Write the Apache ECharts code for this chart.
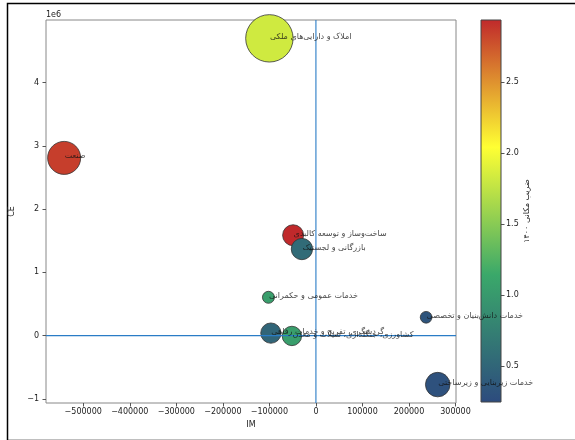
<!DOCTYPE html>
<html><head><meta charset="utf-8">
<script src="https://cdn.jsdelivr.net/npm/echarts@6/dist/echarts.min.js"></script>
<style>html,body{margin:0;padding:0;background:#fff}#c{width:575px;height:440px}</style>
</head><body><div id="c"></div>
<script>
const sectors = [
  'املاک و دارایی‌های ملکی',
  'صنعت',
  'ساخت‌وساز و توسعه کالبدی',
  'بازرگانی و لجستیک',
  'خدمات عمومی و حکمرانی',
  'خدمات دانش‌بنیان و تخصصی',
  'گردشگری، تفریح و خدمات رفاهی',
  'کشاورزی، جنگلداری، شیلات و معدن',
  'خدمات زیربنایی و زیرساختی'
];
const imValues = [-100000, -541000, -49000, -30100, -102000, 236800, -96800, -51600, 261700];
const ceValues = [4700000, 2810000, 1587000, 1369000, 606000, 290000, 40000, -5000, -774000];
const lqValues = [1.82, 2.85, 2.94, 0.55, 1.05, 0.33, 0.5, 1.05, 0.3];
const bubbleWeight = [2247, 1089, 441, 454, 144, 137, 412, 376, 600];
const xTicks = [-500000, -400000, -300000, -200000, -100000, 0, 100000, 200000, 300000];
const yTicks = [-1000000, 0, 1000000, 2000000, 3000000, 4000000];
const cbTicks = [0.5, 1.0, 1.5, 2.0, 2.5];
const lqMin = 0.246, lqMax = 2.937;
const cmapColors = ['#2d4b7e', '#3aa86a', '#ffff33', '#c0292b'];
const xRange = [-580000, 301000];
const yRange = [-1065000, 4990000];

const FONT = 'DejaVu Sans';
const ZERO_COLOR = '#2a7cc6';
const minus = s => String(s).replace('-', '\u2212');
const chart = echarts.init(document.getElementById('c'), null, {renderer: 'canvas'});

const pts = sectors.map((n, i) => [imValues[i], ceValues[i], lqValues[i], bubbleWeight[i], n]);
const lbls = sectors.map((n, i) => [imValues[i], ceValues[i], n]);

const zeroLine = (data) => ({
  type: 'line', xAxisIndex: 0, yAxisIndex: 0, z: 3, data: data, showSymbol: false, symbol: 'none',
  silent: true, clip: true, color: ZERO_COLOR,
  lineStyle: {color: ZERO_COLOR, width: 1.1, type: 'solid'}, emphasis: {disabled: true}
});

chart.setOption({
  animation: false,
  backgroundColor: '#fff',
  textStyle: {fontFamily: FONT},
  grid: [
    {left: 46, top: 20, width: 410, height: 383, show: true, borderColor: '#888', borderWidth: 1, backgroundColor: 'transparent'},
    {left: 481, top: 20, width: 20, height: 382}
  ],
  xAxis: [
    {type: 'value', gridIndex: 0, min: xRange[0], max: xRange[1],
     axisLine: {show: false, onZero: false}, splitLine: {show: false},
     axisTick: {show: true, inside: false, length: 3.5, customValues: xTicks, lineStyle: {color: '#555'}},
     axisLabel: {customValues: xTicks, fontSize: 8, color: '#222', margin: 5, fontFamily: FONT, formatter: v => minus(v)},
     name: 'IM', nameLocation: 'middle', nameGap: 17, nameTextStyle: {fontSize: 8, color: '#222', fontFamily: FONT}},
    {type: 'value', gridIndex: 1, min: 0, max: 1, show: false}
  ],
  yAxis: [
    {type: 'value', gridIndex: 0, min: yRange[0], max: yRange[1],
     axisLine: {show: false, onZero: false}, splitLine: {show: false},
     axisTick: {show: true, inside: false, length: 3.5, customValues: yTicks, lineStyle: {color: '#555'}},
     axisLabel: {customValues: yTicks, fontSize: 8, color: '#222', margin: 7, fontFamily: FONT, formatter: v => minus(Math.round(v / 1e6))},
     name: 'CE', nameLocation: 'middle', nameGap: 24, nameRotate: 90, nameTextStyle: {fontSize: 8, color: '#222', fontFamily: FONT}},
    {type: 'value', gridIndex: 1, min: lqMin, max: lqMax, position: 'right',
     axisLine: {show: false, onZero: false}, splitLine: {show: false},
     axisTick: {show: true, inside: false, length: 3.5, customValues: cbTicks, lineStyle: {color: '#555'}},
     axisLabel: {customValues: cbTicks, fontSize: 8, color: '#222', margin: 5, fontFamily: FONT, formatter: v => v.toFixed(1)},
     name: 'ضریب مکانی ۱۴۰۰', nameLocation: 'middle', nameGap: 22, nameRotate: 90,
     nameTextStyle: {fontSize: 8, color: '#222', fontFamily: FONT}}
  ],
  visualMap: {show: false, type: 'continuous', min: lqMin, max: lqMax, dimension: 2, seriesIndex: 0, inRange: {color: cmapColors}},
  series: [
    {type: 'scatter', xAxisIndex: 0, yAxisIndex: 0, z: 2, data: pts,
     symbolSize: d => Math.sqrt(d[3]),
     itemStyle: {borderColor: '#333', borderWidth: 0.8, opacity: 1},
     emphasis: {disabled: true}},
    zeroLine([[xRange[0], 0], [xRange[1], 0]]),
    zeroLine([[0, yRange[0]], [0, yRange[1]]]),
    {type: 'scatter', xAxisIndex: 0, yAxisIndex: 0, z: 4, data: lbls,
     symbolSize: 1, itemStyle: {color: 'rgba(0,0,0,0)'}, silent: true,
     emphasis: {disabled: true},
     label: {show: true, position: 'right', distance: 0, offset: [0, -1.5], align: 'left', verticalAlign: 'middle',
       formatter: p => p.data[2], fontSize: 8, color: '#111', fontFamily: FONT}},
    {type: 'custom', xAxisIndex: 1, yAxisIndex: 1, z: 2, silent: true, data: [[0, lqMin]],
     renderItem: (params, api) => {
       const p0 = api.coord([0, lqMin]);
       const p1 = api.coord([1, lqMax]);
       return {type: 'rect',
         shape: {x: p0[0], y: p1[1], width: p1[0] - p0[0], height: p0[1] - p1[1]},
         style: {fill: new echarts.graphic.LinearGradient(0, 1, 0, 0,
             cmapColors.map((c, i) => ({offset: i / (cmapColors.length - 1), color: c}))),
           stroke: '#444', lineWidth: 1}};
     }}
  ],
  graphic: [
    {type: 'text', left: 46, top: 11, style: {text: '1e6', fontSize: 8, fill: '#222', fontFamily: FONT}},
    {type: 'rect', left: 5, top: 1, shape: {x: 0, y: 0, width: 580, height: 437},
     style: {fill: 'none', stroke: '#000', lineWidth: 1.5}, silent: true}
  ]
});
</script></body></html>
